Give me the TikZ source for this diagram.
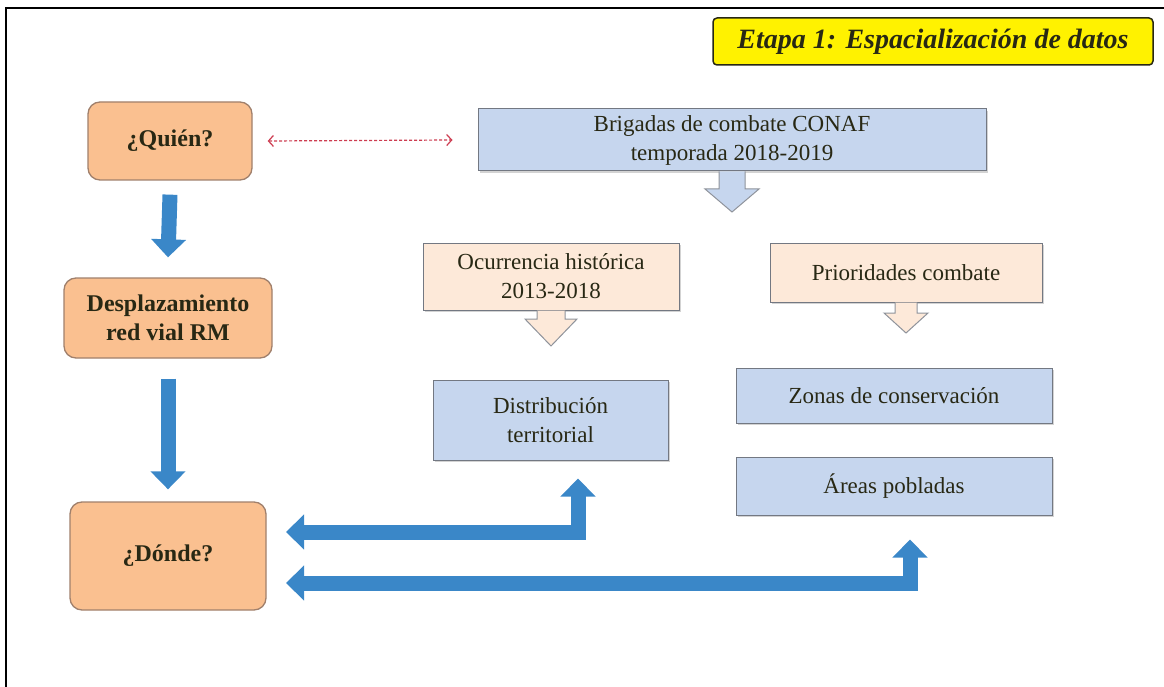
\documentclass[tikz,border=0pt]{standalone}
\usepackage{fontspec}
\setmainfont{Liberation Serif}
\usetikzlibrary{arrows.meta,shadows}

\definecolor{orangeFill}{RGB}{250,192,144}
\definecolor{orangeLine}{RGB}{160,128,108}
\definecolor{blueFill}{RGB}{198,214,238}
\definecolor{peachFill}{RGB}{253,233,217}
\definecolor{boxLine}{RGB}{115,120,130}
\definecolor{arrowBlue}{RGB}{58,135,200}
\definecolor{linkRed}{RGB}{205,60,80}
\definecolor{titleInk}{RGB}{40,40,20}

\tikzset{every picture/.style={line width=0.75pt}}
\tikzset{
  orangebox/.style={draw=orangeLine, line width=1.3pt, fill=orangeFill, rounded corners=12pt,
    align=center, inner sep=0pt, font=\fontsize{24}{29}\selectfont\bfseries, text=titleInk},
  bluebox/.style={draw=boxLine, line width=1pt, fill=blueFill, align=center, inner sep=0pt,
    font=\fontsize{23}{29}\selectfont, text=titleInk,
    drop shadow={shadow xshift=1.5pt, shadow yshift=-2pt, opacity=0.35}},
  peachbox/.style={bluebox, fill=peachFill},
  titlebox/.style={draw=titleInk, line width=1.5pt, fill=yellow, rounded corners=4pt,
    inner sep=0pt, font=\fontsize{28}{32}\selectfont\bfseries\itshape, text=titleInk},
  hollow/.style={draw=boxLine!80, line width=1pt, line join=miter},
  bigarrow/.style={draw=arrowBlue, line width=15pt, -{Triangle[width=34pt,length=18pt]}},
  twoway/.style={draw=arrowBlue, line width=15pt, line join=miter,
    {Triangle[width=34pt,length=18pt]}-{Triangle[width=34pt,length=18pt]}},
  linkarrow/.style={draw=linkRed, line width=1.2pt, dash pattern=on 3pt off 2pt,
    {Straight Barb[length=5pt,width=11pt]}-{Straight Barb[length=5pt,width=11pt]}}
}

\begin{document}
\begin{tikzpicture}[x=1pt,y=1pt,yscale=-1,xscale=1]
\useasboundingbox (0,0) rectangle (1164,687);

% frame
\draw [line width=2pt] (6,687) -- (6,8) -- (1164,8) ;

% Title
\node [titlebox, minimum width=440pt, minimum height=47pt] (title) at (933,41.5) {Etapa 1: Espacialización de datos};

% Left column
\node [orangebox, minimum width=164pt, minimum height=78pt] (quien) at (170,141) {¿Quién?};
\node [orangebox, minimum width=208pt, minimum height=80pt] (despl) at (168,318) {Desplazamiento\\red vial RM};
\node [orangebox, minimum width=196pt, minimum height=108pt] (donde) at (168,556) {¿Dónde?};

% Right part
\node [bluebox, minimum width=508pt, minimum height=62pt] (brig) at (732,140) {Brigadas de combate CONAF\\temporada 2018-2019};
\node [peachbox, minimum width=256pt, minimum height=67pt] (ocurr) at (551,276.5) {Ocurrencia histórica\\2013-2018};
\node [peachbox, minimum width=272pt, minimum height=59pt] (prior) at (906,272.5) {Prioridades combate};
\node [bluebox, minimum width=235pt, minimum height=80pt] (distro) at (550.5,420) {Distribución\\territorial};
\node [bluebox, minimum width=316pt, minimum height=55pt] (zonas) at (894,395.5) {Zonas de conservación};
\node [bluebox, minimum width=316pt, minimum height=58pt] (areas) at (894,486) {Áreas pobladas};

% hollow arrows under boxes
\draw [hollow, fill=blueFill] ([xshift=-13pt]brig.south) -- ++(0,17.5) -- ++(-14,0) -- ++(27,23) -- ++(27,-23) -- ++(-14,0) -- ++(0,-17.5) ;
\draw [hollow, fill=peachFill] ([xshift=-14pt]ocurr.south) -- ++(0,8.5) -- ++(-12,0) -- ++(26,27) -- ++(26,-27) -- ++(-12,0) -- ++(0,-8.5) ;
\draw [hollow, fill=peachFill] ([xshift=-11pt]prior.south) -- ++(0,10.5) -- ++(-11,0) -- ++(22,20) -- ++(22,-20) -- ++(-11,0) -- ++(0,-10.5) ;

% dashed link
\draw [linkarrow] ([xshift=15pt]quien.east) -- ([xshift=-25pt]brig.west) ;

% blue arrows down the left column
\draw [bigarrow] ([yshift=14pt]quien.south) -- ([yshift=-20pt]despl.north) ;
\draw [bigarrow] ([yshift=20pt]despl.south) -- ([yshift=-12pt]donde.north) ;

% L-shaped arrows back to donde
\coordinate (elbowA) at (578,532);
\coordinate (elbowB) at (910,583);
\coordinate (tipA) at (286,532);
\coordinate (tipB) at (286,583);
\draw [twoway] (tipA) -- (elbowA) -- ([yshift=18pt]distro.south -| elbowA) ;
\draw [twoway] (tipB) -- (elbowB) -- ([yshift=24pt]areas.south -| elbowB) ;

\end{tikzpicture}
\end{document}
